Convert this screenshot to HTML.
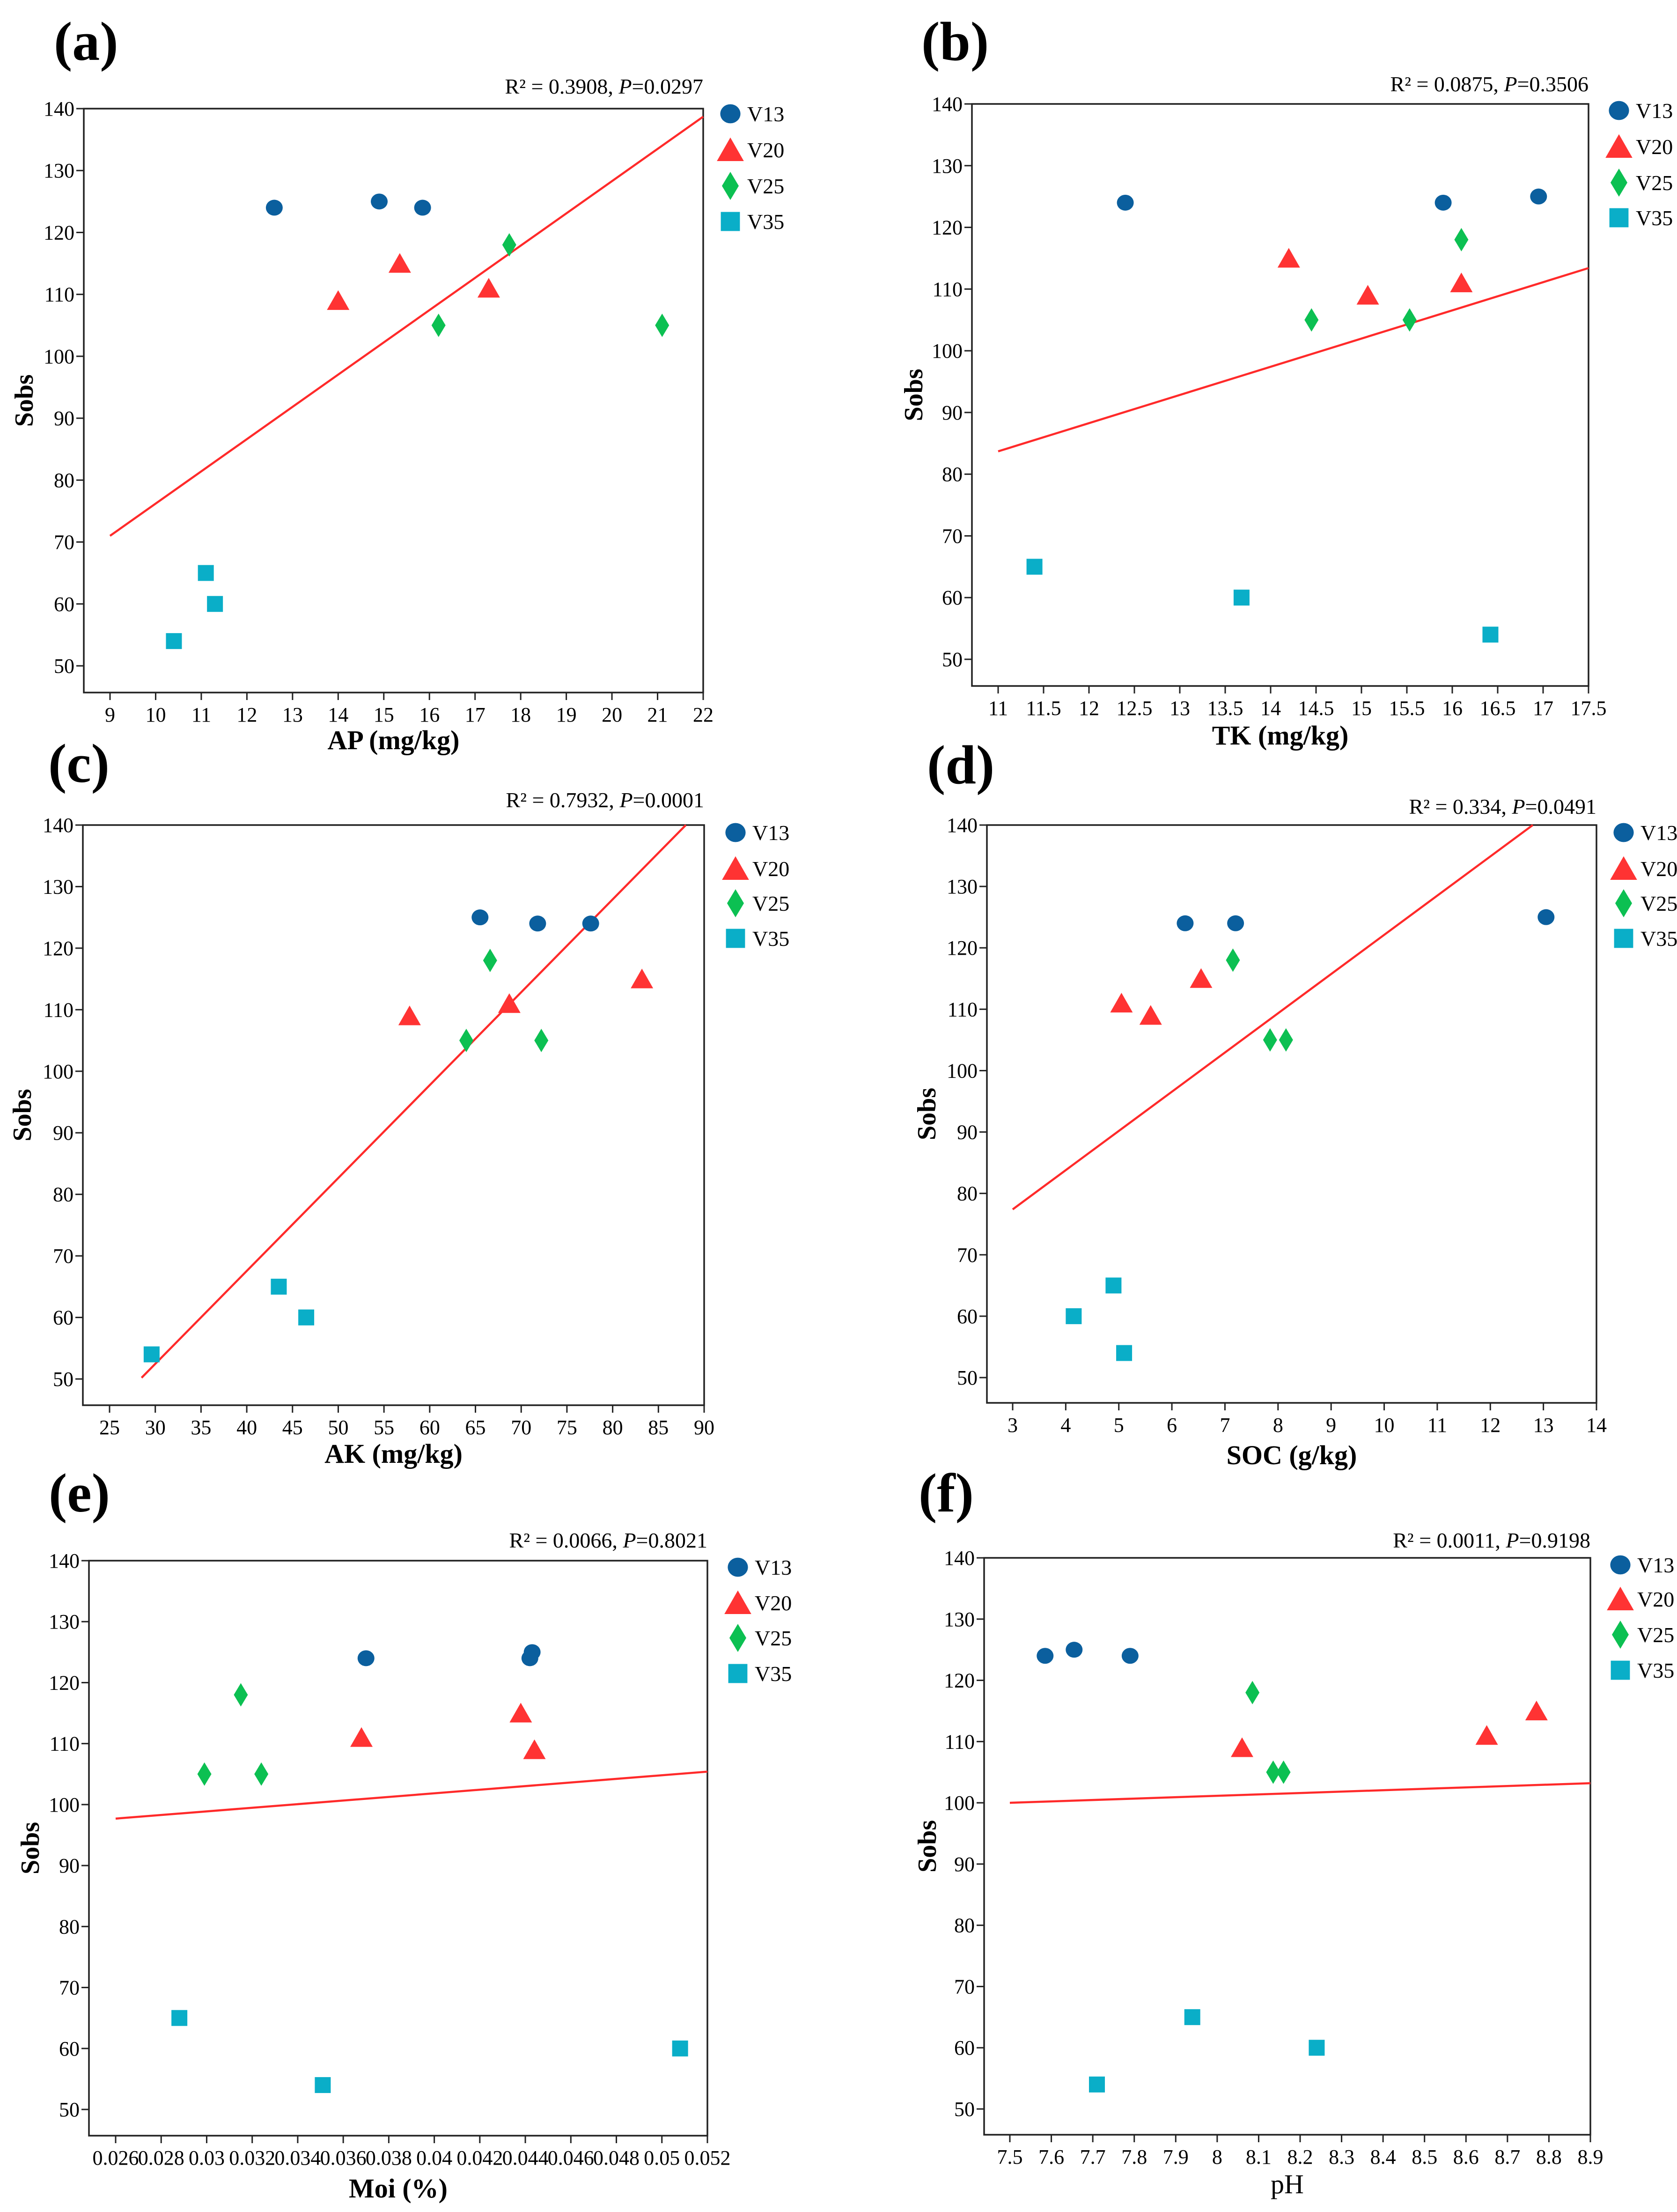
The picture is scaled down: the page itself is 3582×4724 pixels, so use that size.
<!DOCTYPE html>
<html><head><meta charset="utf-8"><style>
html,body{margin:0;padding:0;background:#fff;}
svg{display:block;}
svg text{font-family:"Liberation Serif","Times New Roman",serif;}
</style></head><body>
<svg id="fig" width="3582" height="4724" viewBox="0 0 3582 4724" xmlns="http://www.w3.org/2000/svg" font-family="Liberation Serif, serif"></svg>
<script>
// ---------- data ----------
const yTicks = [50,60,70,80,90,100,110,120,130,140];
const groups = ["V13","V20","V25","V35"];

const a_ticks = [9,10,11,12,13,14,15,16,17,18,19,20,21,22];
const a_V13_x = [12.6,14.9,15.85]; const a_V13_y = [124,125,124];
const a_V20_x = [14.0,15.35,17.3]; const a_V20_y = [109,115,111];
const a_V25_x = [16.2,17.75,21.1]; const a_V25_y = [105,118,105];
const a_V35_x = [11.1,11.3,10.4];  const a_V35_y = [65,60,54];
const a_fit_x = [9,22]; const a_fit_y = [71,138.7];

const b_ticks = [11,11.5,12,12.5,13,13.5,14,14.5,15,15.5,16,16.5,17,17.5];
const b_V13_x = [12.4,15.9,16.95]; const b_V13_y = [124,124,125];
const b_V20_x = [14.2,15.07,16.1]; const b_V20_y = [115,109,111];
const b_V25_x = [14.45,15.53,16.1]; const b_V25_y = [105,105,118];
const b_V35_x = [11.4,13.68,16.42]; const b_V35_y = [65,60,54];
const b_fit_x = [11,17.5]; const b_fit_y = [83.7,113.4];

const c_ticks = [25,30,35,40,45,50,55,60,65,70,75,80,85,90];
const c_V13_x = [65.5,71.8,77.6]; const c_V13_y = [125,124,124];
const c_V20_x = [57.8,68.7,83.2]; const c_V20_y = [109,111,115];
const c_V25_x = [64.0,66.6,72.2]; const c_V25_y = [105,118,105];
const c_V35_x = [29.6,43.5,46.5]; const c_V35_y = [54,65,60];
const c_fit_x = [28.5,88]; const c_fit_y = [50.2,140];

const d_ticks = [3,4,5,6,7,8,9,10,11,12,13,14];
const d_V13_x = [6.25,7.2,13.05]; const d_V13_y = [124,124,125];
const d_V20_x = [5.05,5.6,6.55]; const d_V20_y = [111,109,115];
const d_V25_x = [7.15,7.85,8.15]; const d_V25_y = [118,105,105];
const d_V35_x = [4.15,4.9,5.1]; const d_V35_y = [60,65,54];
const d_fit_x = [3,12.8]; const d_fit_y = [77.4,140];

const e_ticks = [0.026,0.028,0.03,0.032,0.034,0.036,0.038,0.04,0.042,0.044,0.046,0.048,0.05,0.052];
const e_V13_x = [0.0370,0.0442,0.0443]; const e_V13_y = [124,124,125];
const e_V20_x = [0.0368,0.0438,0.0444]; const e_V20_y = [111,115,109];
const e_V25_x = [0.0299,0.0315,0.0324]; const e_V25_y = [105,118,105];
const e_V35_x = [0.0288,0.0351,0.0508]; const e_V35_y = [65,54,60];
const e_fit_x = [0.026,0.052]; const e_fit_y = [97.7,105.4];

const f_ticks = [7.5,7.6,7.7,7.8,7.9,8,8.1,8.2,8.3,8.4,8.5,8.6,8.7,8.8,8.9];
const f_V13_x = [7.585,7.655,7.79]; const f_V13_y = [124,125,124];
const f_V20_x = [8.06,8.65,8.77]; const f_V20_y = [109,111,115];
const f_V25_x = [8.085,8.135,8.16]; const f_V25_y = [118,105,105];
const f_V35_x = [7.71,7.94,8.24]; const f_V35_y = [54,65,60];
const f_fit_x = [7.5,8.9]; const f_fit_y = [100,103.2];

const stats = ["R\u00B2 = 0.3908, |P|=0.0297","R\u00B2 = 0.0875, |P|=0.3506","R\u00B2 = 0.7932, |P|=0.0001","R\u00B2 = 0.334, |P|=0.0491","R\u00B2 = 0.0066, |P|=0.8021","R\u00B2 = 0.0011, |P|=0.9198"];
const xTitles = ["AP (mg/kg)","TK (mg/kg)","AK (mg/kg)","SOC (g/kg)","Moi (%)","pH"];
const panelLetters = ["(a)","(b)","(c)","(d)","(e)","(f)"];

// ---------- layout ----------
const NS="http://www.w3.org/2000/svg";
const FONT='"Liberation Serif", "Times New Roman", serif';
const svg=document.getElementById('fig');
const COL={V13:"#0b5f9e",V20:"#ff3333",V25:"#0cc052",V35:"#0aaec8"};
const panels=[
 {id:"a",L:179,R:1502,top:232,y50:1422,B:1479,x0:235,x1:1502,ticks:a_ticks,data:[[a_V13_x,a_V13_y],[a_V20_x,a_V20_y],[a_V25_x,a_V25_y],[a_V35_x,a_V35_y]],fx:a_fit_x,fy:a_fit_y,rb:200,lx:115,lb:128,legX:1560,legY:[243,320,397,473],tb:1600,sx:70,bold:true},
 {id:"b",L:2076,R:3393,top:222,y50:1408,B:1465,x0:2132,x1:3393,ticks:b_ticks,data:[[b_V13_x,b_V13_y],[b_V20_x,b_V20_y],[b_V25_x,b_V25_y],[b_V35_x,b_V35_y]],fx:b_fit_x,fy:b_fit_y,rb:195,lx:1968,lb:128,legX:3458,legY:[236,313,390,465],tb:1590,sx:1970,bold:true},
 {id:"c",L:177,R:1504,top:1762,y50:2945,B:3001,x0:234,x1:1504,ticks:c_ticks,data:[[c_V13_x,c_V13_y],[c_V20_x,c_V20_y],[c_V25_x,c_V25_y],[c_V35_x,c_V35_y]],fx:c_fit_x,fy:c_fit_y,rb:1724,lx:103,lb:1670,legX:1571,legY:[1778,1855,1929,2004],tb:3124,sx:66,bold:true},
 {id:"d",L:2108,R:3410,top:1762,y50:2942,B:2996,x0:2163,x1:3410,ticks:d_ticks,data:[[d_V13_x,d_V13_y],[d_V20_x,d_V20_y],[d_V25_x,d_V25_y],[d_V35_x,d_V35_y]],fx:d_fit_x,fy:d_fit_y,rb:1738,lx:1980,lb:1673,legX:3468,legY:[1778,1855,1929,2004],tb:3127,sx:1998,bold:true},
 {id:"e",L:190,R:1511,top:3333,y50:4505,B:4561,x0:247,x1:1511,ticks:e_ticks,data:[[e_V13_x,e_V13_y],[e_V20_x,e_V20_y],[e_V25_x,e_V25_y],[e_V35_x,e_V35_y]],fx:e_fit_x,fy:e_fit_y,rb:3305,lx:104,lb:3228,legX:1576,legY:[3347,3423,3498,3574],tb:4693,sx:83,bold:true},
 {id:"f",L:2102,R:3397,top:3327,y50:4504,B:4559,x0:2157,x1:3397,ticks:f_ticks,data:[[f_V13_x,f_V13_y],[f_V20_x,f_V20_y],[f_V25_x,f_V25_y],[f_V35_x,f_V35_y]],fx:f_fit_x,fy:f_fit_y,rb:3305,lx:1962,lb:3228,legX:3461,legY:[3342,3415,3491,3567],tb:4684,sx:1999,bold:false}
];
function mk(tag,attrs,parent,text){const e=document.createElementNS(NS,tag);for(const k in attrs)e.setAttribute(k,attrs[k]);if(tag==='text')e.style.fontFamily=FONT;if(text!==undefined)e.textContent=text;(parent||svg).appendChild(e);return e;}
function marker(g,grp,cx,cy,s,parent){
  let e;
  if(grp==="V13") e=mk('ellipse',{cx:cx,cy:cy,rx:18*s,ry:17*s,fill:COL[grp]},parent);
  else if(grp==="V20") e=mk('polygon',{points:`${cx},${cy-22*s} ${cx+24*s},${cy+20*s} ${cx-24*s},${cy+20*s}`,fill:COL[grp]},parent);
  else if(grp==="V25") e=mk('polygon',{points:`${cx},${cy-25*s} ${cx+15*s},${cy} ${cx},${cy+25*s} ${cx-15*s},${cy}`,fill:COL[grp]},parent);
  else e=mk('rect',{x:cx-17*s,y:cy-17*s,width:34*s,height:34*s,fill:COL[grp]},parent);
  return e;
}
panels.forEach((p,pi)=>{
  const g=mk('g',{});
  
  
  const X=v=>p.x0+(v-p.ticks[0])*(p.x1-p.x0)/(p.ticks[p.ticks.length-1]-p.ticks[0]);
  const Y=v=>p.top+(140-v)*(p.y50-p.top)/90;
  const lt=mk('text',{x:p.lx,y:p.lb,'font-size':118,'font-weight':'bold'},g,panelLetters[pi]);
  
  
  const st=mk('text',{x:p.R,y:p.rb,'font-size':46,'text-anchor':'end'},g);
  
  
  const parts=stats[pi].split('|');
  mk('tspan',{},st,parts[0]);mk('tspan',{'font-style':'italic'},st,parts[1]);mk('tspan',{},st,parts[2]);
  const fr=mk('rect',{x:p.L,y:p.top,width:p.R-p.L,height:p.B-p.top,fill:'none',stroke:'#222','stroke-width':3.5},g);
  
  
  yTicks.forEach(v=>{
    const y=Y(v);
    mk('line',{x1:p.L-16,x2:p.L,y1:y,y2:y,stroke:'#222','stroke-width':3},g);
    const t=mk('text',{x:p.L-20,y:y+15,'font-size':44,'text-anchor':'end'},g,String(v));
    
    
  });
  p.ticks.forEach(v=>{
    const x=X(v);
    mk('line',{x1:x,x2:x,y1:p.B,y2:p.B+16,stroke:'#222','stroke-width':3},g);
    const t=mk('text',{x:x,y:p.B+62,'font-size':44,'text-anchor':'middle'},g,String(v));
    
    
  });
  const yt=mk('text',{x:0,y:0,'font-size':56,'font-weight':'bold','text-anchor':'middle',transform:`translate(${p.sx},${(p.top+p.B)/2}) rotate(-90)`},g,'Sobs');
  
  
  const xt=mk('text',{x:(p.L+p.R)/2,y:p.tb,'font-size':58,'font-weight':p.bold?'bold':'normal','text-anchor':'middle'},g,xTitles[pi]);
  
  
  const fl=mk('line',{x1:X(p.fx[0]),y1:Y(p.fy[0]),x2:X(p.fx[1]),y2:Y(p.fy[1]),stroke:'#ff2a2a','stroke-width':4.5},g);
  
  
  groups.forEach((grp,gi)=>{
    const xs=p.data[gi][0], ys=p.data[gi][1];
    xs.forEach((xv,i)=>{
      const m=marker(g,grp,X(xv),Y(ys[i]),1,g);
      
      
    });
    const lm=marker(g,grp,p.legX,p.legY[gi],1.2,g);
    
    
    const ltx=mk('text',{x:p.legX+36,y:p.legY[gi]+16,'font-size':46},g,grp);
    
    
  });
});
</script>
</body></html>
